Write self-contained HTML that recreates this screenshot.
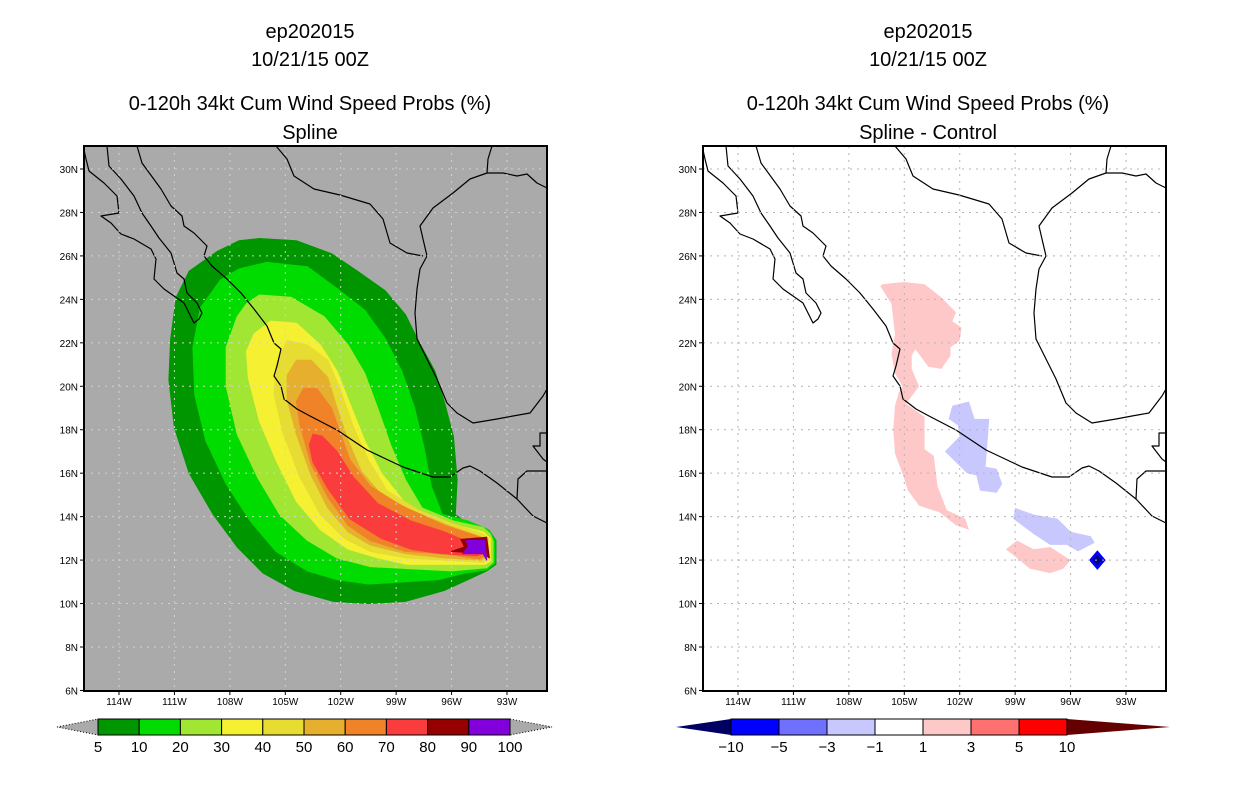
<!DOCTYPE html>
<html><head><meta charset="utf-8"><style>
body{margin:0;background:#fff;}
svg text{font-family:"Liberation Sans",sans-serif;}
</style></head><body>
<svg id="s" width="1236" height="800" xmlns="http://www.w3.org/2000/svg">
<defs>
<clipPath id="cl"><rect x="84" y="146" width="463" height="545"/></clipPath>
<clipPath id="cr"><rect x="703" y="146" width="463" height="545"/></clipPath>
</defs>
<g font-size="20" text-anchor="middle" fill="#000">
<text x="310" y="38">ep202015</text>
<text x="310" y="66">10/21/15 00Z</text>
<text x="310" y="110">0-120h 34kt Cum Wind Speed Probs (%)</text>
<text x="310" y="139">Spline</text>
<text x="928" y="38">ep202015</text>
<text x="928" y="66">10/21/15 00Z</text>
<text x="928" y="110">0-120h 34kt Cum Wind Speed Probs (%)</text>
<text x="928" y="139">Spline - Control</text>
</g>
<rect x="84" y="146" width="463" height="545" fill="#aaaaaa"/>
<g id="lfill" clip-path="url(#cl)"></g>
<g id="rfill" clip-path="url(#cr)"></g>
<g id="axes"></g>
<g id="cbars"></g>
</svg>
<script>
const NS="http://www.w3.org/2000/svg";
// probability contour polygons (lon, lat) per level
const probLevels=["5","10","20","30","40","50","60","70","80","90"];
const probColors=["#009600","#00dc00","#a0e632","#f5f032","#e6dc32","#e6af2d","#f08228","#fa3c3c","#960000","#8200dc"];
const p5=[[-106.4,26.8],[-104.4,26.7],[-102.5,26.1],[-101.1,25.3],[-99.6,24.4],[-98.5,23.3],[-97.8,22.1],[-96.9,20.7],[-96.4,19.3],[-95.9,17.7],[-95.7,15.7],[-95.8,14.1],[-94.9,13.5],[-94.0,13.4],[-93.6,12.9],[-93.6,11.8],[-94.1,11.5],[-95.1,11.1],[-96.4,10.6],[-98.5,10.1],[-100.5,10.0],[-102.4,10.1],[-104.5,10.6],[-106.2,11.4],[-107.6,12.6],[-108.9,14.1],[-110.2,16.0],[-111.0,18.1],[-111.3,20.3],[-111.2,22.2],[-110.9,24.1],[-110.2,25.3],[-108.7,26.2],[-107.5,26.7]];
const p10=[[-106.0,25.7],[-103.8,25.5],[-102.2,24.5],[-100.7,23.5],[-99.6,22.2],[-98.7,20.7],[-98.0,19.0],[-97.5,17.2],[-97.1,15.4],[-96.5,14.1],[-95.1,13.8],[-94.0,13.4],[-93.65,12.9],[-93.65,11.85],[-94.1,11.55],[-95.3,11.4],[-96.7,11.1],[-98.5,11.0],[-100.5,10.9],[-102.2,11.1],[-103.8,11.5],[-105.5,12.4],[-106.9,13.8],[-108.2,15.5],[-109.3,17.5],[-109.9,19.6],[-110.0,21.8],[-109.6,23.6],[-108.5,24.9],[-107.5,25.4]];
const p20=[[-106.4,24.2],[-104.7,24.1],[-102.9,23.2],[-101.6,21.9],[-100.7,20.6],[-100.0,19.0],[-99.3,17.3],[-98.5,15.7],[-97.6,14.4],[-95.9,13.8],[-94.3,13.5],[-93.9,13.2],[-93.75,12.85],[-93.75,11.9],[-94.1,11.65],[-96.0,11.5],[-98.2,11.6],[-100.4,11.7],[-102.2,12.1],[-103.8,12.9],[-105.3,14.1],[-106.5,15.8],[-107.6,17.8],[-108.2,20.0],[-108.2,21.8],[-107.6,23.2],[-107.1,23.8]];
const p30=[[-105.8,23.0],[-104.4,22.9],[-103.1,21.9],[-102.2,20.7],[-101.5,19.2],[-100.7,17.5],[-99.8,16.0],[-98.5,14.6],[-96.7,13.8],[-94.3,13.3],[-93.9,13.0],[-93.9,11.95],[-94.2,11.8],[-96.4,11.8],[-98.4,11.8],[-100.0,12.1],[-101.6,12.5],[-103.1,13.4],[-104.4,14.7],[-105.5,16.6],[-106.4,18.4],[-107.0,20.4],[-107.1,21.6],[-106.7,22.4]];
const p40=[[-104.9,22.1],[-103.8,21.9],[-102.7,21.2],[-102.0,19.8],[-101.3,18.1],[-100.5,16.6],[-99.5,15.2],[-97.8,14.3],[-96.0,13.7],[-94.3,13.2],[-94.0,13.0],[-94.0,12.05],[-94.3,11.9],[-96.4,12.0],[-98.5,12.1],[-100.4,12.4],[-101.8,13.0],[-103.1,14.1],[-104.2,15.8],[-105.1,17.8],[-105.6,19.6],[-105.5,21.0]];
const p50=[[-104.4,21.2],[-103.6,21.2],[-102.7,20.4],[-102.2,19.0],[-101.6,17.5],[-100.9,16.1],[-99.8,15.0],[-98.2,14.3],[-96.2,13.6],[-94.5,13.1],[-94.1,12.95],[-94.1,12.15],[-94.4,12.0],[-96.4,12.1],[-98.5,12.3],[-100.4,12.7],[-101.6,13.3],[-102.7,14.4],[-103.6,15.9],[-104.4,17.8],[-104.9,19.4],[-104.9,20.5]];
const p60=[[-104.0,19.9],[-103.3,19.9],[-102.5,19.0],[-102.0,17.8],[-101.5,16.6],[-100.4,15.4],[-98.7,14.5],[-96.4,13.6],[-94.6,13.1],[-94.2,12.9],[-94.2,12.2],[-94.5,12.05],[-96.4,12.3],[-98.5,12.4],[-100.4,12.9],[-101.6,13.6],[-102.7,14.9],[-103.6,16.4],[-104.2,18.2],[-104.4,19.3]];
const p70=[[-103.5,17.8],[-103.0,17.7],[-102.2,17.0],[-101.3,15.8],[-100.0,14.6],[-98.2,13.8],[-96.4,13.3],[-95.3,12.9],[-94.3,12.85],[-94.3,12.3],[-94.6,12.2],[-96.6,12.3],[-98.2,12.5],[-99.8,13.0],[-101.5,13.9],[-102.7,15.3],[-103.5,16.5],[-103.7,17.3]];
const p80=[[-95.5,12.95],[-94.1,13.05],[-93.95,12.1],[-94.3,12.3],[-96.0,12.4],[-95.3,12.6]];
const p90=[[-95.2,12.9],[-94.2,12.9],[-94.1,12.0],[-94.3,12.3],[-95.4,12.3],[-95.1,12.6]];
const probPolys=[p5,p10,p20,p30,p40,p50,p60,p70,p80,p90];
// difference anomaly polygons (lon, lat)
const diffPosA=[[-106.2,24.7],[-105.0,24.8],[-103.9,24.7],[-103.0,24.1],[-102.2,23.4],[-102.4,23.0],[-101.9,22.7],[-102.0,22.1],[-102.5,21.8],[-102.5,21.4],[-103.0,20.8],[-103.7,20.9],[-104.4,21.7],[-104.6,21.4],[-104.6,20.8],[-104.2,20.0],[-104.9,19.2],[-103.9,18.6],[-103.9,17.1],[-103.4,16.8],[-103.2,15.4],[-102.7,14.3],[-101.7,13.9],[-101.5,13.4],[-102.2,13.6],[-103.1,14.2],[-104.2,14.5],[-104.8,15.2],[-105.1,16.0],[-105.5,16.9],[-105.6,18.0],[-105.5,19.1],[-105.3,19.7],[-105.1,20.0],[-105.5,20.6],[-105.7,21.5],[-105.5,22.4],[-105.7,23.8],[-106.3,24.6]];
const diffPosB=[[-99.5,12.5],[-98.9,12.9],[-98.0,12.5],[-97.1,12.6],[-96.0,12.0],[-96.4,11.6],[-97.1,11.4],[-98.2,11.6],[-98.9,12.1]];
const diffNegA=[[-102.4,19.1],[-101.5,19.3],[-101.2,18.5],[-100.4,18.5],[-100.6,16.3],[-100.0,16.2],[-99.7,15.5],[-100.0,15.1],[-100.9,15.2],[-101.1,15.9],[-101.6,16.0],[-102.8,17.0],[-102.0,17.7],[-102.1,18.2],[-102.6,18.5]];
const diffNegB=[[-99.0,14.4],[-98.0,14.1],[-96.7,13.9],[-96.0,13.3],[-94.9,13.1],[-94.7,12.8],[-95.6,12.4],[-96.2,12.7],[-97.1,12.7],[-98.0,13.2],[-99.1,13.9]];
const diffPeakCenter=[-94.55,12.0];
const diffPeakRadius=[0.45,0.25];
const lonTicks=[-114,-111,-108,-105,-102,-99,-96,-93];
const latTicks=[6,8,10,12,14,16,18,20,22,24,26,28,30];
const probBarLabels=["5","10","20","30","40","50","60","70","80","90","100"];
const diffBarLabels=["-10","-5","-3","-1","1","3","5","10"];
const diffColors=["#0000ff","#7070ff","#c8c8ff","#ffffff","#ffc8c8","#ff7070","#ff0000"];

const X=(lon,off)=>119+(lon+114)*18.476+off;
const Y=lat=>169+(30-lat)*21.727;
function mk(tag,attrs,parent){const e=document.createElementNS(NS,tag);for(const k in attrs)e.setAttribute(k,attrs[k]);parent.appendChild(e);return e;}
function pts(poly,off){return poly.map(p=>X(p[0],off).toFixed(1)+','+Y(p[1]).toFixed(1)).join(' ');}

const lf=document.getElementById('lfill');
probPolys.forEach((poly,i)=>{
  const e=mk('polygon',{points:pts(poly,0),fill:probColors[i],'stroke':probColors[i],'stroke-width':1,'stroke-linejoin':'round'},lf);
  
  
});
const rf=document.getElementById('rfill');
[[diffPosA,'#ffc8c8','diff-positive-west'],[diffPosB,'#ffc8c8','diff-positive-south'],[diffNegA,'#c8c8ff','diff-negative-central'],[diffNegB,'#c8c8ff','diff-negative-south']].forEach(d=>{
  const e=mk('polygon',{points:pts(d[0],619),fill:d[1]},rf);
  
  
});
diffPeakRadius.forEach((r,i)=>{
  const c=diffPeakCenter;
  const dia=[[c[0]-r,c[1]],[c[0],c[1]+r],[c[0]+r,c[1]],[c[0],c[1]-r]];
  const e=mk('polygon',{points:pts(dia,619),fill:i==0?'#0000ff':'#000080'},rf);
  
  
});

// coastlines (basemap geometry in left-frame pixel space)
const coast=[
"M84,150 L86,159 L89,171 L104,183 L117,196 L119,213 L101,216 L111,223 L121,234 L134,239 L151,249 L156,259 L154,279 L164,289 L174,296 L184,303 L194,323 L199,319 L202,313 L197,303 L187,293 L184,279 L177,273 L171,253 L159,238 L151,226 L142,213 L134,196 L121,179 L109,166 L107,146",
"M137,146 L142,163 L161,189 L171,206 L182,216 L184,226 L194,233 L207,246 L204,256 L212,266 L227,279 L241,293 L254,309 L267,326 L274,343 L281,349 L277,366 L274,376 L281,386 L284,399 L297,409 L310,416 L337,430 L367,450 L403,467 L433,477 L450,477 L463,468 L470,466 L480,471 L497,483 L517,499 L533,516 L547,523",
"M276,146 L287,159 L294,176 L314,189 L340,195 L370,204 L383,219 L390,243 L407,253 L423,256",
"M492,146 L488,159 L487,173 L470,179 L453,193 L433,208 L420,226 L423,239 L427,256 L420,269 L417,289 L415,313 L417,339 L427,359 L437,379 L447,403 L457,413 L473,423 L497,419 L513,416 L530,413 L543,396 L547,389",
"M487,173 L503,173 L517,176 L527,174 L537,183 L547,188",
"M547,433 L540,433 L540,446 L533,446 L543,459 L547,462",
"M547,471 L527,471 L518,479 L517,499"];
[0,619].forEach((off,pi)=>{
  const g=mk('g',{transform:'translate('+off+',0)'},document.getElementById('axes'));
  g.setAttribute('clip-path','url(#cl)');
  
  
  coast.forEach(d=>mk('path',{d:d,fill:'none',stroke:'#000','stroke-width':1.2,'stroke-linejoin':'round'},g));
});

// grid, frame, ticks
[0,619].forEach((off,pi)=>{
  const ax=document.getElementById('axes');
  const gc=pi?'#b4b4b4':'#d2d2d2';
  const g=mk('g',{},ax);
  
  
  lonTicks.forEach(l=>mk('line',{x1:X(l,off),x2:X(l,off),y1:146,y2:691,stroke:gc,'stroke-dasharray':'2,5'},g));
  latTicks.forEach(l=>{if(l>6&&l<=30)mk('line',{x1:84+off,x2:547+off,y1:Y(l),y2:Y(l),stroke:gc,'stroke-dasharray':'2,5'},g);});
  const fr=mk('rect',{x:84+off,y:146,width:463,height:545,fill:'none',stroke:'#000','stroke-width':2},ax);
  
  
  lonTicks.forEach(l=>{
    mk('line',{x1:X(l,off),x2:X(l,off),y1:691,y2:695,stroke:'#000'},ax);
    const t=mk('text',{x:X(l,off),y:705,'font-size':10,'text-anchor':'middle'},ax);
    t.textContent=(-l)+'W';
    
    
  });
  latTicks.forEach(l=>{
    mk('line',{x1:80+off,x2:84+off,y1:Y(l),y2:Y(l),stroke:'#000'},ax);
    const t=mk('text',{x:78+off,y:Y(l)+4,'font-size':10,'text-anchor':'end'},ax);
    t.textContent=l+'N';
    
    
  });
});

// colorbars
const cb=document.getElementById('cbars');
(function(){
  const x0=98,w=41.2,y0=719,h=16;
  const lt=mk('polygon',{points:`57,727 ${x0},${y0} ${x0},${y0+h}`,fill:'#aaaaaa',stroke:'#000','stroke-dasharray':'1,2'},cb);
  
  const rt=mk('polygon',{points:`${x0+10*w},${y0} 552,727 ${x0+10*w},${y0+h}`,fill:'#aaaaaa',stroke:'#000','stroke-dasharray':'1,2'},cb);
  
  probColors.forEach((c,i)=>{
    const r=mk('rect',{x:x0+i*w,y:y0,width:w,height:h,fill:c,stroke:'#000'},cb);
    
    
  });
  probBarLabels.forEach((s,i)=>{
    const t=mk('text',{x:x0+i*w,y:752,'font-size':15,'text-anchor':'middle'},cb);
    t.textContent=s;
    
    
  });
})();
(function(){
  const x0=731,w=48,y0=719,h=16;
  const lt=mk('polygon',{points:`676,727 ${x0},${y0} ${x0},${y0+h}`,fill:'#000064'},cb);
  
  const rt=mk('polygon',{points:`${x0+7*w},${y0} 1170,727 ${x0+7*w},${y0+h}`,fill:'#640000'},cb);
  
  diffColors.forEach((c,i)=>{
    const r=mk('rect',{x:x0+i*w,y:y0,width:w,height:h,fill:c,stroke:'#000'},cb);
    
    
  });
  diffBarLabels.forEach((s,i)=>{
    const t=mk('text',{x:x0+i*w,y:752,'font-size':15,'text-anchor':'middle'},cb);
    t.textContent=s.replace('-','\u2212');
    
    
  });
})();
</script>
</body></html>
